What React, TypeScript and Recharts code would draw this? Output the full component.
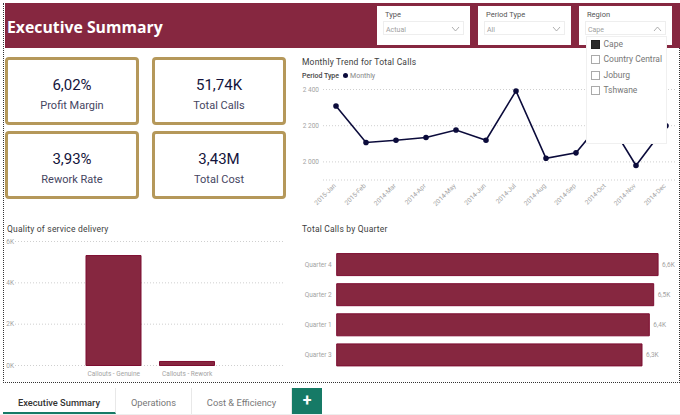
import React from "react";
import {
  BarChart,
  Bar,
  LineChart,
  Line,
  XAxis,
  YAxis,
  CartesianGrid,
  LabelList,
} from "recharts";

const months = [
  "2015-Jan", "2015-Feb", "2014-Mar", "2014-Apr", "2014-May", "2014-Jun",
  "2014-Jul", "2014-Aug", "2014-Sep", "2014-Oct", "2014-Nov", "2014-Dec",
];
const monthlyCalls = [2309, 2107, 2120, 2135, 2176, 2120, 2392, 2020, 2050, 2250, 1980, 2200];
const lineTicks = [2000, 2200, 2400];

const qualityNames = ["Callouts - Genuine", "Callouts - Rework"];
const qualityValues = [5320, 195];
const qualityTicks = [0, 2000, 4000, 6000];

const quarters = ["Quarter 4", "Quarter 2", "Quarter 1", "Quarter 3"];
const quarterCalls = [6600, 6510, 6420, 6270];

const kpiValues = ["6,02%", "51,74K", "3,93%", "3,43M"];
const kpiLabels = ["Profit Margin", "Total Calls", "Rework Rate", "Total Cost"];

const slicerTitles = ["Type", "Period Type", "Region"];
const slicerValues = ["Actual", "All", "Cape"];
const regions = ["Cape", "Country Central", "Joburg", "Tshwane"];
const tabs = ["Executive Summary", "Operations", "Cost & Efficiency"];

const lineData = months.map((month, i) => ({ month, calls: monthlyCalls[i] }));
const qualityData = qualityNames.map((name, i) => ({ name, value: qualityValues[i] }));
const quarterData = quarters.map((quarter, i) => ({ quarter, calls: quarterCalls[i] }));

const FONT = "Roboto, sans-serif";
const MAROON = "#862740";
const EDGE = "#7d0c30";
const NAVY = "#0b0b3b";
const GOLD = "#b5985a";
const TICK = { fill: "#a3a3a3", fontSize: 6.5, fontFamily: FONT };
const GRID = { stroke: "#cfcfcf", strokeDasharray: "1 2" };

const kpiBoxes = [
  { left: 5, top: 57 },
  { left: 152, top: 57 },
  { left: 5, top: 131 },
  { left: 152, top: 131 },
];
const slicerBoxes = [377, 478, 579];
const tabBoxes = [
  { left: 3, width: 113 },
  { left: 116, width: 76 },
  { left: 192, width: 100 },
];

const abs = (left: number, top: number, width: number, height: number): React.CSSProperties => ({
  position: "absolute",
  left,
  top,
  width,
  height,
  boxSizing: "border-box",
});

const Title = ({ left, top, text }: { left: number; top: number; text: string }) => (
  <div
    style={{
      position: "absolute",
      left,
      top,
      fontSize: 8.5,
      fontWeight: 400,
      letterSpacing: 0.2,
      color: "#404040",
      whiteSpace: "nowrap",
    }}
  >
    {text}
  </div>
);

const Chevron = ({ left, top, up }: { left: number; top: number; up?: boolean }) => (
  <svg style={{ position: "absolute", left, top }} width="9" height="6">
    <polyline
      points={up ? "1,5 4.5,1 8,5" : "1,1 4.5,5 8,1"}
      fill="none"
      stroke="#9a9a9a"
      strokeWidth="0.8"
    />
  </svg>
);

// plain one-line tick, the default one wraps labels at the space
const yTick = (format: (v: any) => string) => (props: any) => (
  <text x={props.x} y={props.y} dy={2.3} textAnchor="end" {...TICK}>
    {format(props.payload.value)}
  </text>
);

const spacedThousands = (v: number) => String(v).replace(/(\d)(\d{3})$/, "$1 $2");
const inK = (v: number) => v / 1000 + "K";
const quarterLabel = (v: any) => (Number(v) / 1000).toFixed(1).replace(".", ",") + "K";

export default function App() {
  return (
    <div
      style={{
        ...abs(0, 0, 680, 415),
        background: "#fff",
        overflow: "hidden",
        fontFamily: FONT,
      }}
    >
      {/* page frame */}
      <div style={{ ...abs(3, 3, 677, 380), border: "1px dotted #333", borderTop: "none" }} />

      {/* header */}
      <div style={{ ...abs(5, 3, 675, 45), background: MAROON }} />
      <div
        style={{
          position: "absolute",
          left: 7,
          top: 16,
          color: "#fff",
          fontSize: 15.8,
          fontWeight: 700,
          fontFamily: "'Open Sans', sans-serif",
          whiteSpace: "nowrap",
        }}
      >
        Executive Summary
      </div>

      {/* slicers */}
      {slicerBoxes.map((left, i) => (
        <div key={left} style={{ ...abs(left, 6, 93, 39), background: "#fff" }}>
          <div style={{ position: "absolute", left: 8, top: 4, fontSize: 7.5, color: "#555" }}>
            {slicerTitles[i]}
          </div>
          <div style={{ ...abs(6, 15, 81, 14), border: "1px solid #eeeeee" }} />
          <div style={{ position: "absolute", left: 9, top: 20, fontSize: 7, color: "#a0a0a0" }}>
            {slicerValues[i]}
          </div>
          <Chevron left={74} top={20} up={i === 2} />
        </div>
      ))}

      {/* KPI cards */}
      {kpiBoxes.map((box, i) => (
        <div
          key={kpiLabels[i]}
          style={{
            ...abs(box.left, box.top, 134, 68),
            border: `3px solid ${GOLD}`,
            borderRadius: 4,
            textAlign: "center",
          }}
        >
          <div style={{ marginTop: 16, fontSize: 15, lineHeight: "18px", color: "#14143c" }}>
            {kpiValues[i]}
          </div>
          <div style={{ marginTop: 5, fontSize: 11, lineHeight: "14px", color: "#45455f" }}>
            {kpiLabels[i]}
          </div>
        </div>
      ))}

      {/* monthly trend */}
      <Title left={302} top={57} text="Monthly Trend for Total Calls" />
      <div
        style={{
          position: "absolute",
          left: 302,
          top: 72,
          fontSize: 7,
          color: "#888",
          whiteSpace: "nowrap",
        }}
      >
        <span style={{ fontWeight: 500, color: "#444" }}>Period Type</span>
        <span
          style={{
            display: "inline-block",
            width: 5,
            height: 5,
            borderRadius: 3,
            background: NAVY,
            margin: "0 2px 0 4px",
          }}
        />
        Monthly
      </div>
      <div style={{ position: "absolute", left: 298, top: 80 }}>
        <LineChart
          width={378}
          height={140}
          data={lineData}
          margin={{ top: 9.5, right: 0, bottom: 0, left: 0 }}
        >
          <CartesianGrid vertical={false} {...GRID} />
          <XAxis
            dataKey="month"
            interval={0}
            padding={{ left: 13, right: 10 }}
            axisLine={false}
            tickLine={false}
            tick={{ ...TICK, dx: -3 }}
            angle={-45}
            textAnchor="end"
            height={40}
            tickSize={3}
            tickMargin={0}
          />
          <YAxis
            domain={[1900, 2400]}
            ticks={lineTicks}
            width={25}
            axisLine={false}
            tickLine={false}
            tickSize={0}
            tickMargin={4}
            tick={yTick(spacedThousands)}
          />
          <Line
            dataKey="calls"
            stroke={NAVY}
            strokeWidth={1.6}
            dot={{ r: 2, fill: NAVY, stroke: NAVY }}
            isAnimationActive={false}
          />
        </LineChart>
      </div>

      {/* region dropdown sits on top of the line chart */}
      <div
        style={{
          ...abs(585.5, 36, 81, 108),
          background: "#fff",
          border: "1px solid #f0f0f0",
        }}
      >
        {regions.map((region, i) => (
          <div
            key={region}
            style={{ position: "absolute", left: 4, top: 3 + i * 15.3, height: 10, whiteSpace: "nowrap" }}
          >
            <span
              style={{
                position: "absolute",
                left: 0,
                top: 0,
                width: 9,
                height: 9,
                boxSizing: "border-box",
                border: i === 0 ? "1px solid #222" : "1px solid #aaa",
                background: i === 0 ? "#2b2b2b" : "#fff",
              }}
            />
            <span
              style={{ position: "absolute", left: 13, top: -1, fontSize: 8.5, color: "#777" }}
            >
              {region}
            </span>
          </div>
        ))}
      </div>

      {/* quality of service */}
      <Title left={7} top={224} text="Quality of service delivery" />
      <div style={{ position: "absolute", left: 0, top: 230 }}>
        <BarChart
          width={290}
          height={152}
          data={qualityData}
          margin={{ top: 11.5, right: 6, bottom: 0, left: 0 }}
        >
          <CartesianGrid vertical={false} {...GRID} />
          <XAxis
            dataKey="name"
            interval={0}
            padding={{ left: 62, right: 60 }}
            axisLine={false}
            tickLine={false}
            tick={TICK}
            height={16.5}
            tickMargin={0}
          />
          <YAxis
            domain={[0, 6000]}
            ticks={qualityTicks}
            width={15}
            axisLine={false}
            tickLine={false}
            tickSize={0}
            tickMargin={1}
            tick={yTick(inK)}
          />
          <Bar
            dataKey="value"
            fill={MAROON}
            stroke={EDGE}
            strokeWidth={1}
            barSize={55}
            isAnimationActive={false}
          />
        </BarChart>
      </div>

      {/* calls by quarter */}
      <Title left={302} top={224} text="Total Calls by Quarter" />
      <div style={{ position: "absolute", left: 298, top: 245 }}>
        <BarChart
          layout="vertical"
          width={382}
          height={125}
          data={quarterData}
          margin={{ top: 4.6, right: 10, bottom: 0, left: 0 }}
        >
          <XAxis type="number" domain={[0, 6845]} hide />
          <YAxis
            type="category"
            dataKey="quarter"
            width={38.7}
            axisLine={false}
            tickLine={false}
            tickSize={0}
            tickMargin={5}
            tick={yTick((v) => v)}
          />
          <Bar
            dataKey="calls"
            fill={MAROON}
            stroke={EDGE}
            strokeWidth={1}
            barSize={22}
            isAnimationActive={false}
          >
            <LabelList
              dataKey="calls"
              position="right"
              offset={4}
              formatter={quarterLabel}
              style={{ fill: "#a3a3a3", fontSize: 6.5, fontFamily: FONT }}
            />
          </Bar>
        </BarChart>
      </div>

      {/* report tabs */}
      <div style={{ ...abs(0, 414, 680, 1), background: "#eeeeee" }} />
      {tabBoxes.map((box, i) => (
        <div
          key={tabs[i]}
          style={{
            ...abs(box.left, 388, box.width, 26),
            borderRight: "1px solid #e8e8e8",
            borderBottom: i === 0 ? "2px solid #167a66" : "none",
            textAlign: "center",
            lineHeight: "29px",
            fontSize: 9.3,
            color: i === 0 ? "#333" : "#777",
            fontWeight: i === 0 ? 500 : 400,
            whiteSpace: "nowrap",
          }}
        >
          {tabs[i]}
        </div>
      ))}
      <div
        style={{
          ...abs(292, 388, 30, 26),
          background: "#167a66",
          color: "#fff",
          textAlign: "center",
          fontSize: 16,
          fontWeight: 700,
          lineHeight: "25px",
        }}
      >
        +
      </div>
    </div>
  );
}
